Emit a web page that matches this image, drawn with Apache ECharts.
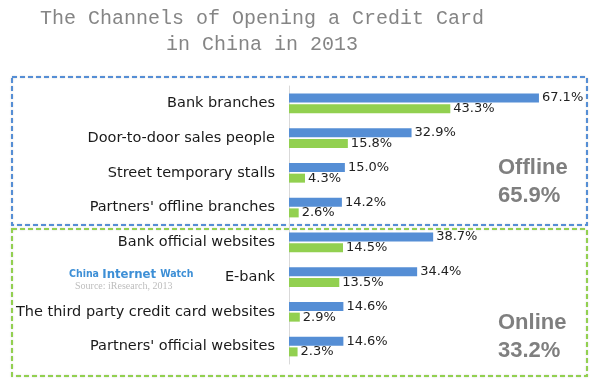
<!DOCTYPE html>
<html>
<head>
<meta charset="utf-8">
<script src="https://cdn.jsdelivr.net/npm/echarts@6/dist/echarts.min.js"></script>
<style>html,body{margin:0;padding:0;background:#fff}#c{width:600px;height:384px}</style>
</head>
<body>
<div id="c"></div>
<script>
var categories = ["Bank branches","Door-to-door sales people","Street temporary stalls","Partners' offline branches","Bank official websites","E-bank","The third party credit card websites","Partners' official websites"];
var blueValues = [67.1, 32.9, 15.0, 14.2, 38.7, 34.4, 14.6, 14.6];
var greenValues = [43.3, 15.8, 4.3, 2.6, 14.5, 13.5, 2.9, 2.3];
var groupNames = ["Offline", "Online"];
var groupShares = ["65.9%", "33.2%"];
var titleLines = ["The Channels of Opening a Credit Card", "in China in 2013"];

var chart = echarts.init(document.getElementById('c'), null, {renderer:'canvas'});
var fmt = function(p){ return p.value.toFixed(1) + '%'; };
var labelStyle = {show:true, position:'right', distance:3, formatter:fmt, color:'#222', fontSize:13, fontFamily:'DejaVu Sans'};
var wmFont = '"DejaVu Sans Condensed", "Liberation Sans", sans-serif';
chart.setOption({
  animation:false,
  grid:{left:289, top:86, width:298, height:278, containLabel:false},
  xAxis:{type:'value', min:0, max:80, show:false},
  yAxis:{type:'category', data:categories, inverse:true,
    axisLine:{show:true, lineStyle:{color:'#d9d9d9', width:1}},
    axisTick:{show:false},
    axisLabel:{margin:14, color:'#1a1a1a', fontSize:14.5, fontFamily:'DejaVu Sans'}},
  series:[
    {type:'bar', data:blueValues, barWidth:9, barGap:'17%', itemStyle:{color:'#558ED5'}, label:labelStyle},
    {type:'bar', data:greenValues, barWidth:9, barGap:'17%', itemStyle:{color:'#92D050'}, label:labelStyle}
  ],
  graphic:[
    {type:'text', x:262, y:9, style:{text:titleLines[0], font:'20px "Liberation Mono"', fill:'#858585', textAlign:'center'}},
    {type:'text', x:262, y:35, style:{text:titleLines[1], font:'20px "Liberation Mono"', fill:'#858585', textAlign:'center'}},
    {type:'rect', shape:{x:12, y:77, width:575, height:148}, style:{fill:'none', stroke:'#558ED5', lineWidth:2, lineDash:[5,3], shadowBlur:2, shadowColor:'rgba(0,0,0,0.2)'}},
    {type:'rect', shape:{x:12, y:229, width:575, height:147}, style:{fill:'none', stroke:'#92D050', lineWidth:2, lineDash:[5,3], shadowBlur:2, shadowColor:'rgba(0,0,0,0.2)'}},
    {type:'text', x:498, y:154, style:{text:groupNames[0] + '\n' + groupShares[0], font:'bold 22px "Liberation Sans"', fill:'#7f7f7f', lineHeight:28}},
    {type:'text', x:498, y:309, style:{text:groupNames[1] + '\n' + groupShares[1], font:'bold 22px "Liberation Sans"', fill:'#7f7f7f', lineHeight:28}},
    {type:'text', x:69, y:268, style:{text:'{a|China }{b|Internet }{a|Watch}', rich:{
      a:{fontFamily:wmFont, fontWeight:'bold', fontSize:10.5, fill:'#3d8fd6'},
      b:{fontFamily:wmFont, fontWeight:'bold', fontSize:13, fill:'#3d8fd6'}}}},
    {type:'text', x:75, y:281, style:{text:'Source: iResearch, 2013', font:'10px "Liberation Serif"', fill:'#bdbdbd'}}
  ]
});
</script>
</body>
</html>
